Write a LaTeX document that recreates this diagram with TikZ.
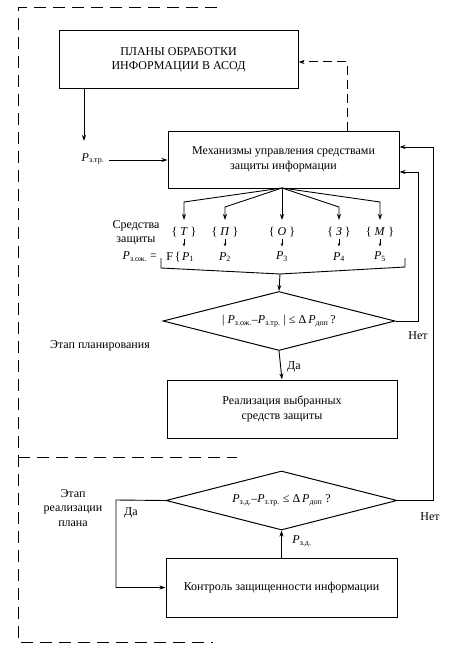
\documentclass[tikz,border=0pt]{standalone}
\usepackage{fontspec}
\setmainfont{Liberation Serif}
\usetikzlibrary{arrows.meta,shapes.geometric}
\newcommand{\myP}[1]{\textit{P}\textsubscript{#1}}
\begin{document}
\begin{tikzpicture}[x=1pt,y=-1pt,
  every node/.style={font=\fontsize{12}{14.5}\selectfont},
  boxnode/.style={draw,line width=1pt,rectangle,inner sep=0pt,align=center},
  decnode/.style={draw,line width=1pt,diamond,shape aspect=3.9,inner sep=0pt,align=center},
  arr/.style={line width=0.9pt,-{Stealth[length=6pt,width=4pt]}},
  smallarr/.style={line width=0.5pt,-{Stealth[length=3.5pt,width=2.5pt]}},
  plain/.style={line width=0.9pt},
  frame/.style={line width=1pt,dash pattern=on 12pt off 7pt},
  lbl/.style={inner sep=0pt,align=center}]
\useasboundingbox (0,0) rectangle (453,658);

% frames
\coordinate (ftl) at (18,8);
\coordinate (ftr) at (217,8);
\coordinate (fml) at (18,457);
\coordinate (fmr) at (237,457);
\coordinate (fbl) at (18,642);
\coordinate (fbr) at (213,642);
\draw[frame] (ftr) -- (ftl) -- (fbl) -- (fbr);
\draw[frame] (fml) -- (fmr);

% boxes
\node[boxnode,minimum width=239pt,minimum height=58pt] (b1) at (178.5,60)
  {ПЛАНЫ ОБРАБОТКИ\\ИНФОРМАЦИИ В АСОД};
\node[boxnode,minimum width=231pt,minimum height=57pt] (b2) at (283.5,159.5)
  {Механизмы управления средствами\\защиты информации};
\node[boxnode,minimum width=230pt,minimum height=58pt] (b3) at (282,409)
  {Реализация выбранных\\средств защиты};
\node[boxnode,minimum width=231pt,minimum height=59pt] (b4) at (281.5,587.5)
  {Контроль защищенности информации};

% decisions
\node[decnode,minimum width=232pt,minimum height=59pt] (d1) at (279,321)
  {| \myP{з.ож.}–\myP{з.тр.} | ≤ Δ\,\myP{доп}\,?};
\node[decnode,minimum width=231pt,minimum height=59pt] (d2) at (281.5,500.5)
  {\myP{з.д.}–\myP{з.тр.} ≤ Δ\,\myP{доп} ?};

% dashed feedback to b1
\coordinate (dsh) at (347,131);
\draw[frame,dash pattern=on 9pt off 5pt,-{Stealth[length=6pt,width=4pt]}]
  (dsh) |- (b1.east |- 0,62);

% input P_z.tr
\coordinate (pin) at (84,141);
\draw[arr] (b1.south -| pin) -- (pin);
\node[lbl] (pztr) at (93,159) {\myP{з.тр.}};
\draw[arr] (pztr.east) ++(5,1) coordinate (pzs) (pzs) -- (b2.west |- pzs);

% branches
\coordinate (br) at (282,188);
\node[lbl] (t) at (184,232) {\{ \textit{T} \}};
\node[lbl] (p) at (225,232) {\{ \textit{П} \}};
\node[lbl] (o) at (282,232) {\{ \textit{О} \}};
\node[lbl] (z) at (339,232) {\{ \textit{З} \}};
\node[lbl] (m) at (380,232) {\{ \textit{М} \}};
\draw[arr] (br) -- (184,202) -- (t.north |- 0,220);
\draw[arr] (br) -- (225,207) -- (p.north |- 0,220);
\draw[arr] (br) -- (o.north |- 0,220);
\draw[arr] (br) -- (339,207) -- (z.north |- 0,220);
\draw[arr] (br) -- (380,202) -- (m.north |- 0,220);

\node[lbl] (sz) at (136,233) {Средства\\защиты};

\node[lbl] (p1) at (188,257) {\myP{1}};
\node[lbl] (p2) at (225,257) {\myP{2}};
\node[lbl] (p3) at (282,257) {\myP{3}};
\node[lbl] (p4) at (339,257) {\myP{4}};
\node[lbl] (p5) at (380,257) {\myP{5}};
\node[lbl,anchor=east] (fb) at ([xshift=-1pt]p1.west) {F\,\{};
\node[lbl,anchor=east] (pzoz) at (157,257) {\myP{з.ож.} =};
\foreach \a/\b in {t/p1,p/p2,o/p3,z/p4,m/p5}
  \draw[smallarr] (\a.south |- 0,239) -- (\a.south |- 0,246.5);

% bracket
\coordinate (bkl) at (161,258);
\coordinate (bkr) at (405,258);
\coordinate (bkm) at (280,274);
\draw[plain] (bkl) -- (161,268) -- (bkm) -- (405,267) -- (bkr);
\draw[arr] (bkm) -- (d1.north);

% decision 1 outcomes
\draw[arr] (d1.south) -- (b3.north);
\node[lbl] (da1) at (294,367) {Да};
\coordinate (r1) at (418,172);
\draw[arr] (d1.east) -| (r1) -- (r1 -| b2.east);
\node[lbl] (net1) at (418,336) {Нет};
\node[lbl] (plan) at (100,346) {Этап планирования};

% decision 2
\draw[arr] (b4.north) -- (d2.south);
\node[lbl] (pzd) at (302,541) {\myP{з.д.}};
\coordinate (r2) at (433,147);
\draw[arr] (d2.east) -| (r2) -- (r2 -| b2.east);
\node[lbl] (net2) at (430,517) {Нет};
\coordinate (l2) at (116,500);
\draw[arr] (d2.west) -- (l2) |- (b4.west);
\node[lbl] (da2) at (131,513) {Да};
\node[lbl] (real) at (73,508) {Этап\\реализации\\плана};
\end{tikzpicture}
\end{document}
